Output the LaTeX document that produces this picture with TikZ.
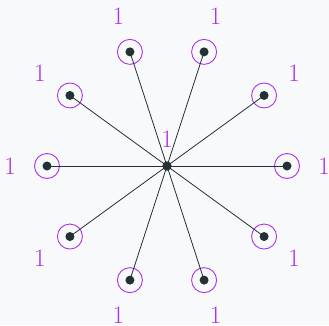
\documentclass[tikz,border=0pt]{standalone}
\usetikzlibrary{calc}
\begin{document}
\begin{tikzpicture}[x=1pt,y=1pt,
  dot/.style={circle,fill=dotc,inner sep=0pt,minimum size=9pt},
  ring/.style={circle,draw=purp,line width=0.9pt,inner sep=0pt,minimum size=25pt},
  lab/.style={text=purp,font=\fontsize{25}{25}\selectfont,inner sep=0pt},
  spoke/.style={draw=dotc,line width=0.8pt}]
\definecolor{bg}{RGB}{248,249,250}
\definecolor{purp}{RGB}{172,48,238}
\definecolor{dotc}{RGB}{36,48,52}
\fill[bg] (0,0) rectangle (329,325);
\useasboundingbox (0,0) rectangle (329,325);
\node[dot] (c) at (167,159) {};
\node[lab] (lc) at (167,186) {1};
\foreach \i in {0,...,9} {
  \pgfmathsetmacro{\a}{36*\i}
  \node[ring] (r\i) at ($(c)+(\a:120)$) {};
  \node[dot] (d\i) at (r\i.center) {};
  \node[lab] (l\i) at ($(c)+(\a:157)$) {1};
  \draw[spoke] (c.center) -- (d\i.center);
}
\node[dot] at (c.center) {};
\end{tikzpicture}
\end{document}
